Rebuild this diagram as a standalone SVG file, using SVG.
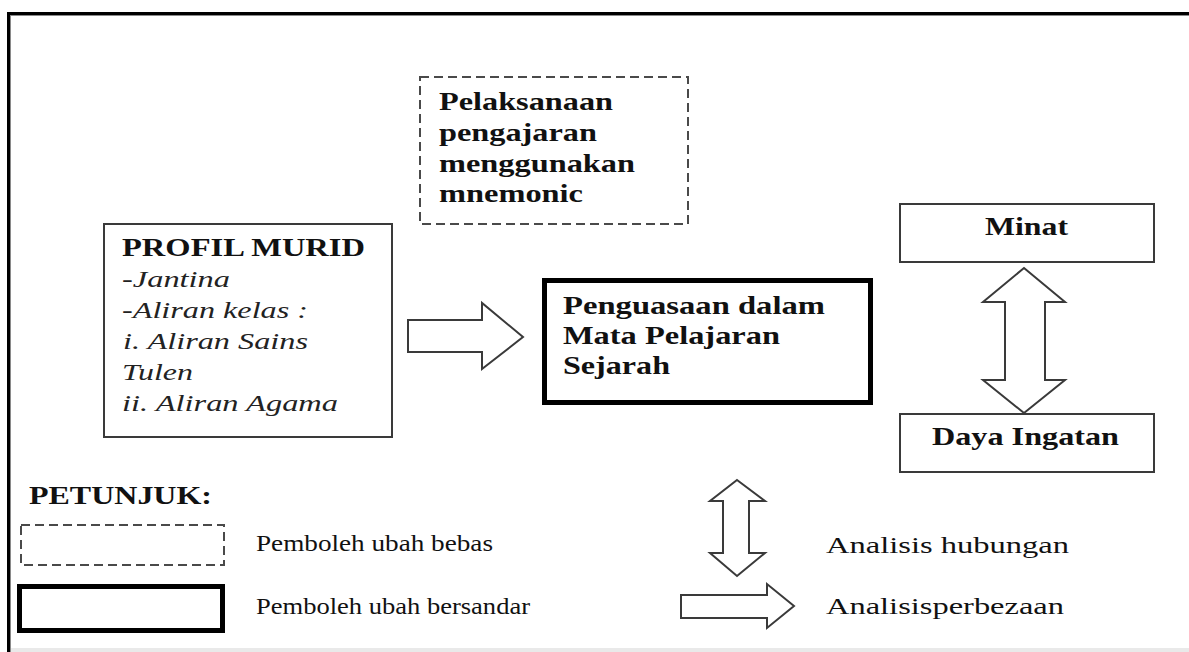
<svg xmlns="http://www.w3.org/2000/svg" width="1189" height="652" viewBox="0 0 1189 652">
<style>
  .b { font-family: "Liberation Serif", "Times New Roman", serif; font-weight: bold; font-size: 25px; fill: #111; }
  .i { font-family: "Liberation Serif", "Times New Roman", serif; font-style: italic; font-size: 23px; fill: #222; }
  .r { font-family: "Liberation Serif", "Times New Roman", serif; font-size: 24px; fill: #111; }
  .box { fill: #fff; stroke: #3a3a3a; stroke-width: 2; }
  .dash { fill: #fff; stroke: #4a4a4a; stroke-width: 2; stroke-dasharray: 9 5; }
  .thick { fill: #fff; stroke: #000; stroke-width: 5; }
  .arrow { fill: #fff; stroke: #3a3a3a; stroke-width: 2; stroke-linejoin: miter; }
</style>
<rect width="1189" height="652" fill="#fff"/>
<g id="frame">
  <rect x="10" y="648" width="1179" height="4" fill="#e9e9e9"/>
  <rect x="7" y="12" width="1182" height="3" fill="#000"/>
  <rect x="7" y="15" width="1182" height="1" fill="#8a8a8a"/>
  <rect x="7" y="12" width="3" height="640" fill="#000"/>
  <rect x="10" y="15" width="1" height="637" fill="#8a8a8a"/>
</g>
<g id="node-pelaksanaan">
  <rect class="dash" x="420" y="77" width="268" height="147"/>
  <text class="b" x="439" y="110" textLength="174" lengthAdjust="spacingAndGlyphs">Pelaksanaan</text>
  <text class="b" x="439" y="141" textLength="158" lengthAdjust="spacingAndGlyphs">pengajaran</text>
  <text class="b" x="439" y="172" textLength="196" lengthAdjust="spacingAndGlyphs">menggunakan</text>
  <text class="b" x="439" y="202" textLength="144" lengthAdjust="spacingAndGlyphs">mnemonic</text>
</g>
<g id="node-profil">
  <rect class="box" x="104" y="224" width="288" height="213"/>
  <text class="b" x="122" y="256" textLength="243" lengthAdjust="spacingAndGlyphs">PROFIL MURID</text>
  <text class="i" x="122" y="287" textLength="108" lengthAdjust="spacingAndGlyphs">-Jantina</text>
  <text class="i" x="122" y="318" textLength="186" lengthAdjust="spacingAndGlyphs">-Aliran kelas :</text>
  <text class="i" x="123" y="349" textLength="185" lengthAdjust="spacingAndGlyphs">i. Aliran Sains</text>
  <text class="i" x="122" y="380" textLength="71" lengthAdjust="spacingAndGlyphs">Tulen</text>
  <text class="i" x="122" y="411" textLength="216" lengthAdjust="spacingAndGlyphs">ii. Aliran Agama</text>
</g>
<g id="node-penguasaan">
  <rect class="thick" x="544.5" y="280.5" width="326" height="122"/>
  <text class="b" x="563" y="314" textLength="262" lengthAdjust="spacingAndGlyphs">Penguasaan dalam</text>
  <text class="b" x="563" y="344" textLength="217" lengthAdjust="spacingAndGlyphs">Mata Pelajaran</text>
  <text class="b" x="563" y="374" textLength="107" lengthAdjust="spacingAndGlyphs">Sejarah</text>
</g>
<g id="node-minat">
  <rect class="box" x="900" y="204" width="254" height="58"/>
  <text class="b" x="985" y="235" textLength="83" lengthAdjust="spacingAndGlyphs">Minat</text>
</g>
<g id="node-daya">
  <rect class="box" x="900" y="414" width="254" height="58"/>
  <text class="b" x="932" y="445" textLength="187" lengthAdjust="spacingAndGlyphs">Daya Ingatan</text>
</g>
<g id="connectors">
  <path class="arrow" d="M408,320 H482 V303 L523,337 L482,369 V352 H408 Z"/>
  <path class="arrow" d="M1024,268 L1065,302 H1045 V380 H1065 L1024,413 L983,380 H1005 V302 H983 Z"/>
</g>
<g id="legend">
  <text class="b" x="29" y="504" font-size="24" textLength="183" lengthAdjust="spacingAndGlyphs">PETUNJUK:</text>
  <rect class="dash" x="21" y="525" width="203" height="40" stroke-dasharray="8 5"/>
  <text class="r" x="256" y="551" textLength="237" lengthAdjust="spacingAndGlyphs">Pemboleh ubah bebas</text>
  <rect class="thick" x="19.5" y="586.5" width="203" height="44"/>
  <text class="r" x="256" y="614" textLength="274" lengthAdjust="spacingAndGlyphs">Pemboleh ubah bersandar</text>
  <path class="arrow" d="M737,480 L765,501 H749 V553 H765 L737,576 L710,553 H723 V501 H710 Z"/>
  <text class="r" x="826" y="553" textLength="243" lengthAdjust="spacingAndGlyphs">Analisis hubungan</text>
  <path class="arrow" d="M681,595 H767 V584 L794,606 L767,628 V618 H681 Z"/>
  <text class="r" x="826" y="614" textLength="238" lengthAdjust="spacingAndGlyphs">Analisisperbezaan</text>
</g>
</svg>
